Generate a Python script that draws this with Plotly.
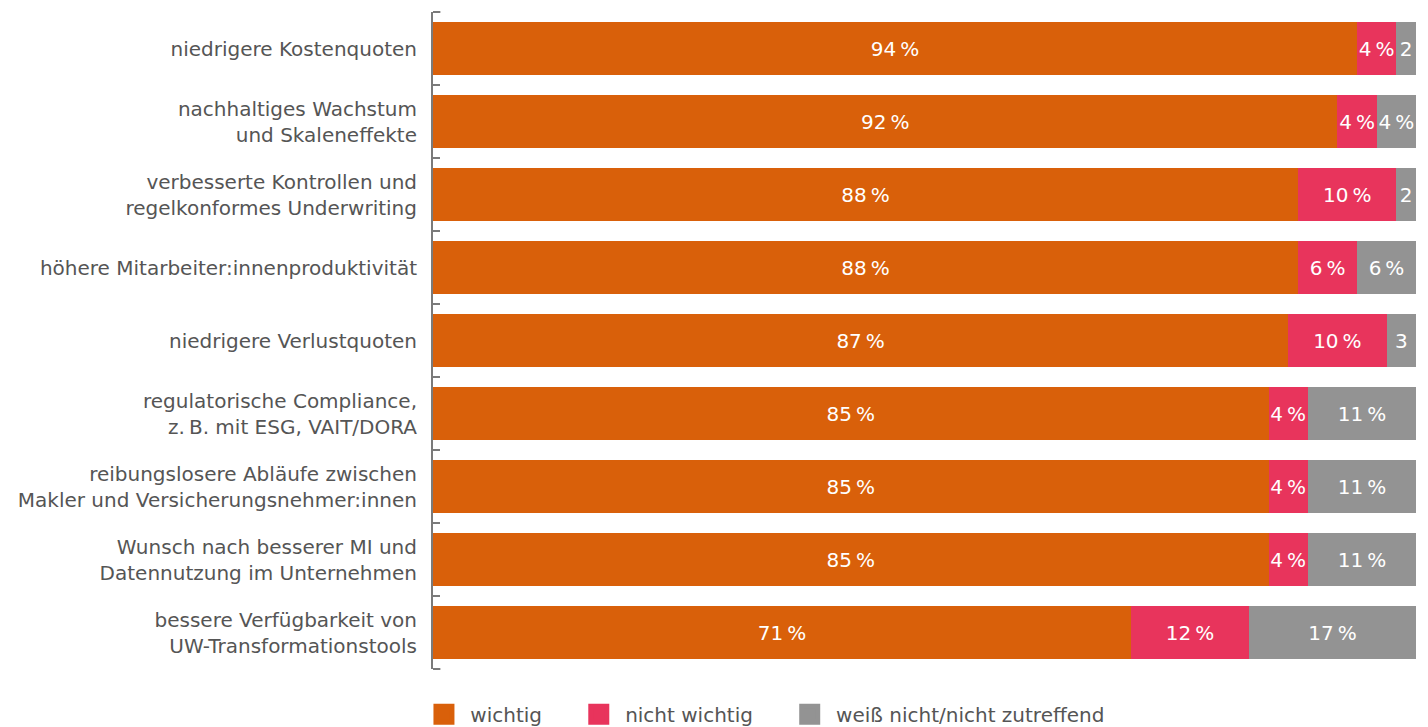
import plotly.graph_objects as go

categories = [
    "niedrigere Kostenquoten",
    "nachhaltiges Wachstum<br>und Skaleneffekte",
    "verbesserte Kontrollen und<br>regelkonformes Underwriting",
    "höhere Mitarbeiter:innenproduktivität",
    "niedrigere Verlustquoten",
    "regulatorische Compliance,<br>z.\u202fB. mit ESG, VAIT/DORA",
    "reibungslosere Abläufe zwischen<br>Makler und Versicherungsnehmer:innen",
    "Wunsch nach besserer MI und<br>Datennutzung im Unternehmen",
    "bessere Verfügbarkeit von<br>UW-Transformationstools",
]
wichtig = [94, 92, 88, 88, 87, 85, 85, 85, 71]
nicht_wichtig = [4, 4, 10, 6, 10, 4, 4, 4, 12]
weiss_nicht = [2, 4, 2, 6, 3, 11, 11, 11, 17]
series_names = ["wichtig", "nicht wichtig", "weiß nicht/nicht zutreffend"]
series_colors = ["#D9600A", "#E8345C", "#939393"]

def lab(v):
    return f"{v}\u202f%" if v >= 4 else str(v)

FONT = "DejaVu Sans, sans-serif"
FS = 20
NB = "\u00a0"

fig = go.Figure()
for name, vals, col in zip(series_names, [wichtig, nicht_wichtig, weiss_nicht], series_colors):
    fig.add_trace(go.Bar(
        y=categories, x=vals, name=name, orientation="h",
        marker=dict(color=col, line=dict(width=0)),
        text=[lab(v) for v in vals], textposition="inside",
        insidetextanchor="middle", textangle=0,
        textfont=dict(color="white", size=FS, family=FONT),
        width=0.726, hoverinfo="skip", showlegend=False,
    ))
# legend entries with large square swatches
for name, col in zip(series_names, series_colors):
    fig.add_trace(go.Scatter(
        x=[None], y=[None], mode="markers", name=NB + name + NB * 5,
        marker=dict(symbol="square", size=16, color=col, line=dict(color=col, width=5)),
        hoverinfo="skip",
    ))

tick_col = "#7a7a7a"
fig.update_layout(
    barmode="stack",
    width=1428, height=727,
    margin=dict(l=433, r=12, t=12, b=58, autoexpand=False),
    plot_bgcolor="white", paper_bgcolor="white",
    font=dict(family=FONT, size=FS, color="#555555"),
    uniformtext=dict(minsize=FS, mode="show"),
    showlegend=True,
    legend=dict(orientation="h", x=-0.0092, xanchor="left", y=-0.069, yanchor="middle",
                font=dict(size=FS, color="#555555"), traceorder="normal",
                itemwidth=30, bgcolor="rgba(0,0,0,0)"),
    xaxis=dict(range=[0, 100], visible=False, fixedrange=True),
    yaxis=dict(
        categoryorder="array", categoryarray=categories,
        range=[8.5, -0.5], showline=True, linecolor=tick_col, linewidth=2,
        ticks="inside", ticklen=7, tickwidth=2, tickcolor=tick_col,
        tickson="boundaries", showgrid=False, zeroline=False,
        tickfont=dict(size=FS, color="#555555"), ticklabelstandoff=10,
    ),
    shapes=[
        dict(type="line", xref="paper", yref="paper", x0=0, x1=0.0075, y0=1, y1=1,
             line=dict(color=tick_col, width=2), layer="below"),
        dict(type="line", xref="paper", yref="paper", x0=0, x1=0.0075, y0=0, y1=0,
             line=dict(color=tick_col, width=2), layer="below"),
    ],
)

fig.write_html("out.html")
